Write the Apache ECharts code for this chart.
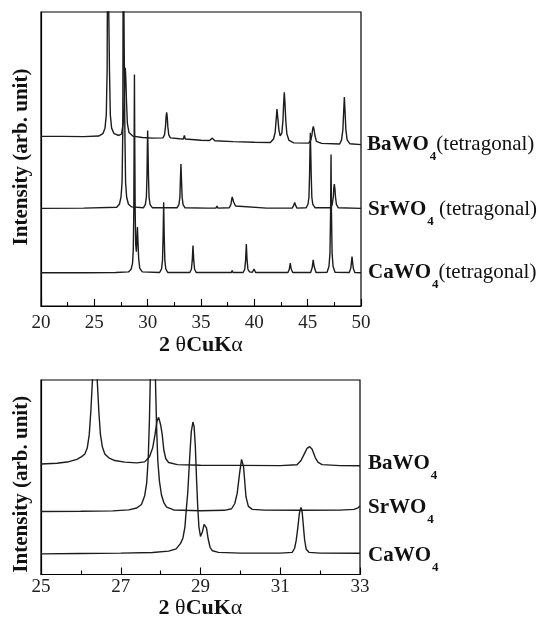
<!DOCTYPE html>
<html>
<head>
<meta charset="utf-8">
<script src="https://cdn.jsdelivr.net/npm/echarts@6/dist/echarts.min.js"></script>
<style>
html,body{margin:0;padding:0;background:#fff;}
#chart{width:538px;height:621px;}
</style>
</head>
<body>
<div id="chart"></div>
<script>
// ---- top panel: full range 20-50 deg (intensity in arbitrary units, offset traces) ----
var topTicks = [20, 25, 30, 35, 40, 45, 50];
var baTop = [[20,57.7],[22,57.7],[24,57.6],[25.4,57.8],[25.8,58.6],[26.0,60.5],[26.12,65],[26.2,80],[26.25,130],[26.37,130],[26.42,80],[26.5,65],[26.62,60.5],[26.85,58.6],[27.3,58],[27.55,58.5],[27.7,62],[27.8,70],[27.86,77.5],[27.9,81],[27.95,77.5],[28.01,70],[28.1,62],[28.25,59],[28.6,57.8],[29.5,57.3],[30.5,57.1],[31.43,57.2],[31.58,58.2],[31.67,61],[31.73,64.5],[31.78,65.9],[31.83,64.5],[31.89,61],[31.98,58.2],[32.13,57.2],[33,56.9],[33.35,56.8],[33.44,58],[33.53,56.8],[35,56.4],[35.8,56.3],[36.06,57.1],[36.3,56.2],[38,55.9],[40,55.7],[41.5,55.6],[41.8,56.8],[41.95,59],[42.05,63.5],[42.12,67],[42.2,64],[42.3,60],[42.42,57.9],[42.5,57.6],[42.58,58.8],[42.68,63],[42.75,69],[42.81,72.7],[42.87,69],[42.95,63],[43.05,58.5],[43.25,56.3],[43.7,55.5],[45.1,55.4],[45.3,56.5],[45.4,58.2],[45.47,60.2],[45.53,61.1],[45.6,60],[45.68,58],[45.82,56],[46.3,55.3],[48.0,55.1],[48.18,56.5],[48.3,60],[48.38,66.5],[48.44,71.1],[48.5,66.5],[48.58,60],[48.7,56.5],[48.95,55.2],[50,54.9]];
var srTop = [[20,33.2],[24,33.3],[27.1,33.6],[27.35,34.6],[27.5,37],[27.6,42],[27.67,60],[27.71,130],[27.81,130],[27.86,60],[27.93,42],[28.03,37],[28.2,34.6],[28.5,33.7],[29.6,33.4],[29.78,34.5],[29.88,37],[29.94,45],[29.97,54],[30.0,59.7],[30.03,54],[30.07,45],[30.13,37],[30.23,34.5],[30.45,33.4],[32.75,33.4],[32.93,34.5],[33.02,37],[33.07,43],[33.12,48.3],[33.17,43],[33.23,37],[33.32,34.5],[33.5,33.4],[35.5,33.3],[35.6,33.9],[35.7,33.3],[36.4,33.3],[36.5,34],[36.6,33.3],[37.65,33.4],[37.8,34.5],[37.88,36.3],[37.93,37.1],[37.99,36.2],[38.06,35.4],[38.14,35.2],[38.24,34],[38.4,33.4],[41.15,33.3],[41.3,33.9],[41.45,33.3],[43.55,33.3],[43.7,34.3],[43.78,35.2],[43.86,34.3],[44.0,33.3],[44.85,33.4],[45.03,34.6],[45.12,37],[45.18,45],[45.22,54],[45.25,58.9],[45.28,54],[45.33,45],[45.39,37],[45.48,34.6],[45.7,33.4],[47.15,33.4],[47.3,34.5],[47.4,37],[47.45,40],[47.5,41.5],[47.55,40],[47.61,37],[47.7,34.5],[47.88,33.4],[50,33.2]];
var caTop = [[20,11.3],[24,11.3],[27,11.4],[28.2,11.6],[28.45,12.5],[28.58,14.5],[28.65,19],[28.7,32],[28.73,55],[28.76,78.7],[28.79,55],[28.83,32],[28.88,21],[28.94,18.5],[28.99,22.5],[29.04,26.9],[29.09,22],[29.16,16],[29.26,12.8],[29.5,11.6],[31.12,11.4],[31.3,12.6],[31.39,15.5],[31.45,24],[31.5,35.3],[31.55,24],[31.61,15.5],[31.7,12.6],[31.88,11.4],[33.95,11.4],[34.1,12.5],[34.18,15.5],[34.25,20.6],[34.32,15.5],[34.4,12.5],[34.55,11.4],[37.85,11.4],[37.92,12.1],[38.0,11.4],[38.95,11.4],[39.1,12.5],[39.18,15.5],[39.25,21.1],[39.32,15.5],[39.4,12.5],[39.55,11.6],[39.82,11.5],[39.97,12.6],[40.12,11.4],[43.15,11.4],[43.28,12.5],[43.37,14.6],[43.46,12.5],[43.6,11.4],[45.28,11.4],[45.42,13],[45.52,15.7],[45.6,13.5],[45.78,11.4],[46.82,11.5],[47.0,13.5],[47.09,18],[47.15,32],[47.19,51.5],[47.23,32],[47.29,18],[47.38,13.5],[47.56,11.5],[48.9,11.4],[49.04,12.8],[49.11,15],[49.16,16.8],[49.21,15],[49.28,12.8],[49.42,11.4],[50,11.3]];

// ---- bottom panel: zoom 25-33 deg ----
var bottomTicks = [25, 27, 29, 31, 33];
var baBottom = [[25,56.8],[25.4,57.2],[25.7,58],[25.9,59.2],[26.02,60.6],[26.1,62],[26.16,65],[26.21,71.9],[26.25,83.9],[26.29,100],[26.32,125],[26.38,125],[26.41,100],[26.45,83.9],[26.49,72],[26.54,65.5],[26.6,62],[26.7,60],[26.85,58.6],[27.1,57.8],[27.4,57.4],[27.6,57.9],[27.72,60.5],[27.8,65],[27.86,72],[27.91,79],[27.95,80.8],[28.0,77],[28.04,71.9],[28.08,64],[28.13,59.5],[28.2,57.6],[28.42,56.5],[29,56.2],[30,56.1],[31,56],[31.42,56.4],[31.52,58.6],[31.61,62.3],[31.67,64.8],[31.74,65.7],[31.8,64.4],[31.88,60],[31.95,57.6],[32.05,56.5],[32.5,56],[33,55.9]];
var srBottom = [[25,32.4],[26,32.5],[26.8,32.7],[27.2,33.2],[27.4,34.2],[27.52,36],[27.6,40.5],[27.65,47],[27.69,60],[27.72,80],[27.74,100],[27.76,125],[27.84,125],[27.87,100],[27.9,75],[27.93,58.2],[27.97,48],[28.02,41],[28.08,37],[28.15,34.6],[28.33,33.2],[29,32.8],[29.6,33],[29.78,33.8],[29.86,36.5],[29.92,41.7],[29.98,52],[30.03,59.2],[30.08,55.4],[30.14,40],[30.2,35],[30.3,33.5],[30.6,33.1],[31.5,33],[32.5,33.1],[32.85,33.5],[32.95,34.3],[33,35.2]];
var caBottom = [[25,10.6],[26,10.8],[27,11],[27.8,11.3],[28.2,12],[28.39,13.2],[28.5,16],[28.56,18.8],[28.61,24.5],[28.64,32.5],[28.68,42],[28.71,53.1],[28.74,64],[28.77,73.6],[28.81,78.4],[28.84,76],[28.87,66],[28.9,49.6],[28.93,35],[28.96,24.5],[29.0,19.6],[29.05,22],[29.09,25.8],[29.12,26.5],[29.15,24],[29.19,18.5],[29.24,14],[29.3,12.2],[29.45,11.4],[30,11],[31,11],[31.3,11.4],[31.36,13.5],[31.4,17.5],[31.44,24],[31.48,31.5],[31.52,34.5],[31.55,32],[31.58,25],[31.61,18],[31.65,13],[31.72,11.4],[32,11],[33,10.9]];

var topLabels = ['{b|BaWO}{s|4}{r|(tetragonal)}', '{b|SrWO}{s|4}{r| (tetragonal)}', '{b|CaWO}{s|4}{r|(tetragonal)}'];
var bottomLabels = ['{b|BaWO}{s|4}', '{b|SrWO}{s|4}', '{b|CaWO}{s|4}'];
var xTitle = '{b|2 }{g|θ}{b|CuK}{g|α}';
var yTitle = 'Intensity (arb. unit)';

var FONT = 'Liberation Serif';
var LINE = '#1c1c1c';
var labelRich = {
  b: {fontFamily: FONT, fontWeight: 'bold', fontSize: 21, color: '#111'},
  s: {fontFamily: FONT, fontWeight: 'bold', fontSize: 13, lineHeight: 13, padding: [24, 0, 0, 1], color: '#111'},
  r: {fontFamily: FONT, fontWeight: 'normal', fontSize: 21, color: '#111'}
};
var titleRich = {
  b: {fontFamily: FONT, fontWeight: 'bold', fontSize: 22, color: '#111'},
  g: {fontFamily: FONT, fontWeight: 'normal', fontSize: 22, color: '#111'}
};

function xAxisCfg(grid, ticks, gap, margin) {
  return {
    gridIndex: grid, type: 'value',
    min: ticks[0], max: ticks[ticks.length - 1], interval: ticks[1] - ticks[0],
    axisLine: {show: true, lineStyle: {color: '#000', width: 1.2}},
    axisTick: {show: true, inside: true, length: 7, lineStyle: {color: '#000', width: 1.1}},
    minorTick: {show: true, splitNumber: 2, length: 4, lineStyle: {color: '#000', width: 1.1}},
    splitLine: {show: false},
    axisLabel: {fontFamily: FONT, fontSize: 19, color: '#222', margin: margin},
    name: xTitle, nameLocation: 'middle', nameGap: gap,
    nameTextStyle: {rich: titleRich}
  };
}
function yAxisCfg(grid, pad) {
  return {
    gridIndex: grid, type: 'value', min: 0, max: 100,
    axisLine: {show: true, lineStyle: {color: '#000', width: 1.2}},
    axisTick: {show: false}, axisLabel: {show: false}, splitLine: {show: false},
    name: yTitle, nameLocation: 'middle', nameGap: 9,
    nameTextStyle: {fontFamily: FONT, fontWeight: 'bold', fontSize: 21, color: '#111', padding: pad}
  };
}
function lineSeries(data, grid, label, dist, off) {
  return {
    type: 'line', data: data, xAxisIndex: grid, yAxisIndex: grid,
    showSymbol: false, symbol: 'none', clip: true, silent: true,
    lineStyle: {color: LINE, width: 1.4},
    endLabel: {show: true, formatter: label, distance: dist, align: 'left', verticalAlign: 'middle',
      offset: off || [0, 0], rich: labelRich}
  };
}

var chart = echarts.init(document.getElementById('chart'), null, {renderer: 'canvas'});
chart.setOption({
  animation: false,
  backgroundColor: '#fff',
  grid: [
    {left: 41, top: 12, width: 320, height: 294, show: true, borderColor: '#000', borderWidth: 1.2, backgroundColor: 'transparent'},
    {left: 41, top: 380, width: 319, height: 194.5, show: true, borderColor: '#000', borderWidth: 1.2, backgroundColor: 'transparent'}
  ],
  xAxis: [xAxisCfg(0, topTicks, 27, 8), xAxisCfg(1, bottomTicks, 8, 3)],
  yAxis: [yAxisCfg(0, [0, 0, 0, 4]), yAxisCfg(1, [0, 14, 0, 0])],
  series: [
    lineSeries(baTop, 0, topLabels[0], 6),
    lineSeries(srTop, 0, topLabels[1], 7, [0, 1.5]),
    lineSeries(caTop, 0, topLabels[2], 7),
    lineSeries(baBottom, 1, bottomLabels[0], 8, [0, -2]),
    lineSeries(srBottom, 1, bottomLabels[1], 8, [0, 2]),
    lineSeries(caBottom, 1, bottomLabels[2], 8, [0, 2])
  ]
});
</script>
</body>
</html>
